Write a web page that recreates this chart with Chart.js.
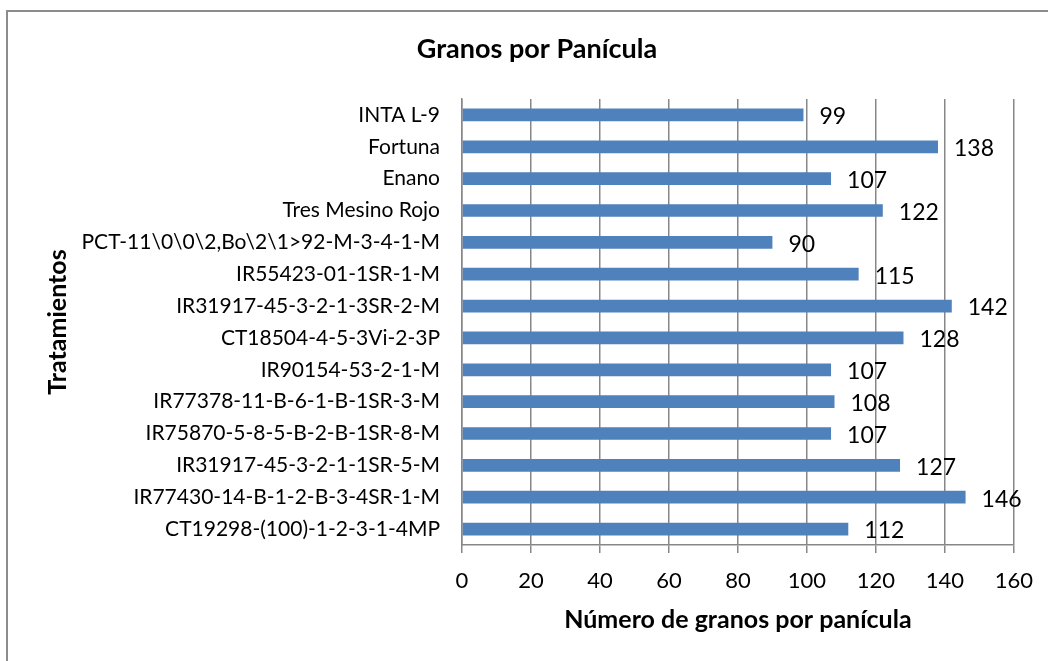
<!DOCTYPE html>
<html>
<head>
<meta charset="utf-8">
<script src="https://cdn.jsdelivr.net/npm/chart.js@4/dist/chart.umd.min.js"></script>
<style>
  html, body { margin: 0; padding: 0; background: #fff; overflow: hidden; }
  #frame { position: absolute; left: 6px; top: 10px; width: 1100px; height: 700px; border: 2px solid #8c8c8c; }
  #wrap { position: absolute; left: 0; top: 0; width: 1048px; height: 661px; }
</style>
</head>
<body>
<div id="frame"></div>
<div id="wrap"><canvas id="myChart" width="1048" height="661"></canvas></div>
<script>
// datos (de arriba hacia abajo)
var tratamientos = [
  'INTA L-9',
  'Fortuna',
  'Enano',
  'Tres Mesino Rojo',
  'PCT-11\\0\\0\\2,Bo\\2\\1>92-M-3-4-1-M',
  'IR55423-01-1SR-1-M',
  'IR31917-45-3-2-1-3SR-2-M',
  'CT18504-4-5-3Vi-2-3P',
  'IR90154-53-2-1-M',
  'IR77378-11-B-6-1-B-1SR-3-M',
  'IR75870-5-8-5-B-2-B-1SR-8-M',
  'IR31917-45-3-2-1-1SR-5-M',
  'IR77430-14-B-1-2-B-3-4SR-1-M',
  'CT19298-(100)-1-2-3-1-4MP'
];
var granos = [99, 138, 107, 122, 90, 115, 142, 128, 107, 108, 107, 127, 146, 112];
var xTicks = [0, 20, 40, 60, 80, 100, 120, 140, 160];

var fuente = 'Lato, "Open Sans", sans-serif';

// etiquetas de valor y titulo
var etiquetas = {
  id: 'etiquetas',
  afterDatasetsDraw: function (chart) {
    var ctx = chart.ctx;
    ctx.save();
    ctx.fillStyle = '#000';
    ctx.font = '23px ' + fuente;
    ctx.textAlign = 'left';
    ctx.textBaseline = 'middle';
    chart.getDatasetMeta(0).data.forEach(function (bar, i) {
      ctx.fillText(String(granos[i]), bar.x + 16, bar.y + 2);
    });
    ctx.font = 'bold 27px ' + fuente;
    ctx.textAlign = 'center';
    ctx.textBaseline = 'alphabetic';
    ctx.fillText('Granos por Panícula', 537, 58);
    ctx.restore();
  }
};

var myChart = document.getElementById('myChart').getContext('2d');
var chart = new Chart(myChart, {
  type: 'bar',
  data: {
    labels: tratamientos,
    datasets: [
      {
        label: 'Granos por Panícula',
        data: granos,
        backgroundColor: '#4F81BD',
        borderWidth: 0,
        barPercentage: 0.4,
        categoryPercentage: 1.0
      }
    ]
  },
  options: {
    indexAxis: 'y',
    responsive: false,
    animation: false,
    layout: { padding: { top: 99, right: 32, left: 0, bottom: 0 } },
    plugins: {
      legend: { display: false },
      tooltip: { enabled: false }
    },
    scales: {
      x: {
        min: 0,
        max: 160,
        afterBuildTicks: function (s) { s.ticks = xTicks.map(function (v) { return { value: v }; }); },
        afterFit: function (s) { s.height = 116; },
        grid: { color: '#878787', lineWidth: 1.5, tickLength: 8 },
        border: { color: '#878787', width: 1.5 },
        ticks: { color: '#000', font: { family: fuente, size: 22 }, padding: 15 },
        title: {
          display: true,
          text: 'Número de granos por panícula',
          color: '#000',
          font: { family: fuente, size: 25, weight: 'bold' },
          padding: { top: 0, bottom: 26 }
        }
      },
      y: {
        afterFit: function (s) { s.width = 462; },
        grid: { display: false, drawTicks: false },
        border: { color: '#878787', width: 1.5 },
        ticks: { color: '#000', font: { family: fuente, size: 21 }, padding: 22, autoSkip: false },
        title: {
          display: true,
          text: 'Tratamientos',
          color: '#000',
          font: { family: fuente, size: 25, weight: 'bold' },
          padding: { top: 43, bottom: 0 }
        }
      }
    }
  },
  plugins: [etiquetas]
});
</script>
</body>
</html>
